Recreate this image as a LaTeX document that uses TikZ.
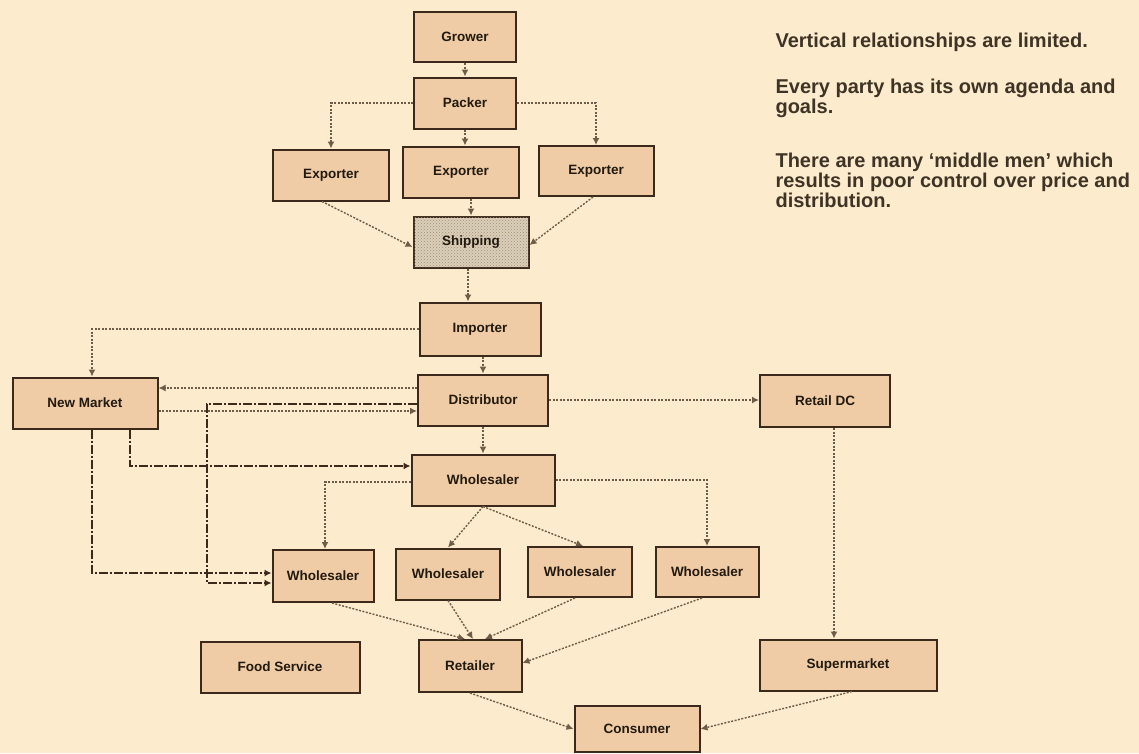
\documentclass[tikz,border=0pt]{standalone}
\usepackage{fontspec}
\setmainfont{Liberation Sans}
\usetikzlibrary{arrows.meta,patterns}

\definecolor{bgcol}{HTML}{FDEBCD}
\definecolor{boxcol}{HTML}{EFCCA6}
\definecolor{edgecol}{HTML}{3B2A1C}
\definecolor{linecol}{HTML}{6E5C48}
\definecolor{txtcol}{HTML}{22190F}
\definecolor{notecol}{HTML}{3E3426}
\definecolor{shipcol}{HTML}{DCCFBA}
\definecolor{shipdot}{HTML}{9E8E76}

\tikzset{
	box/.style={draw=edgecol, line width=2pt, fill=boxcol, inner sep=0pt,
		minimum height=51pt, text=txtcol, font=\fontsize{13.5}{14}\selectfont\bfseries},
	dotline/.style={draw=linecol, line width=1.4pt, dash pattern=on 2pt off 1.5pt,
		-{Latex[length=7pt,width=7pt]}},
	dashdot/.style={draw=edgecol, line width=1.8pt, dash pattern=on 9pt off 2pt on 2pt off 2pt,
		-{Latex[length=7pt,width=7pt]}},
	note/.style={anchor=west, text=notecol, align=left, font=\fontsize{20}{20}\selectfont\bfseries}
}

\begin{document}
\begin{tikzpicture}[x=1pt,y=-1pt]
	\fill[bgcol] (0,0) rectangle (1139,753);
	\useasboundingbox (0,0) rectangle (1139,753);
	% top of the chain
	\node[box, minimum width=102pt, minimum height=50pt] (grow) at (465,37) {Grower};
	\node[box, minimum width=102pt] (pack) at (465,103) {Packer};
	\node[box, minimum width=116pt] (exa) at (331,175) {Exporter};
	\node[box, minimum width=116pt] (exb) at (461,172) {Exporter};
	\node[box, minimum width=115pt, minimum height=50pt] (exc) at (596,171) {Exporter};
	\node[box, minimum width=115pt, fill=shipcol,
		postaction={pattern=crosshatch dots, pattern color=shipdot}] (ship) at (471,242) {Shipping};
	\node[box, minimum width=121pt, minimum height=53pt] (imp) at (480,329) {Importer};
	\node[box, minimum width=130pt] (dist) at (483,400) {Distributor};
	\node[box, minimum width=130pt, minimum height=52pt] (rdc) at (825,401) {Retail DC};
	\node[box, minimum width=145pt] (nm) at (85,403) {New Market};
	% wholesalers
	\node[box, minimum width=143pt] (whm) at (483,480) {Wholesaler};
	\node[box, minimum width=101pt, minimum height=52pt] (wha) at (323,576) {Wholesaler};
	\node[box, minimum width=104pt] (whb) at (448,574) {Wholesaler};
	\node[box, minimum width=104pt, minimum height=50pt] (whc) at (580,572) {Wholesaler};
	\node[box, minimum width=103pt, minimum height=50pt] (whd) at (707,572) {Wholesaler};
	% end of the chain
	\node[box, minimum width=159pt] (food) at (280,667) {Food Service};
	\node[box, minimum width=103pt, minimum height=52pt] (ret) at (470,666) {Retailer};
	\node[box, minimum width=177pt] (sup) at (848,665) {Supermarket};
	\node[box, minimum width=125pt, minimum height=46pt] (cons) at (637,729) {Consumer};
	% notes
	\node[note] (nta) at (772,42) {Vertical relationships are limited.};
	\node[note] (ntb) at (772,98.5) {Every party has its own agenda and\\goals.};
	\node[note] (ntc) at (772,180) {There are many `middle men' which\\results in poor control over price and\\distribution.};

	\draw[dotline] (grow.south) -- (pack.north);
	\draw[dotline] (pack.south) -- (pack.south |- exb.north);
	\draw[dotline] (pack.west) -| (exa.north);
	\draw[dotline] (pack.east) -| (exc.north);
	\draw[dotline] ([xshift=-9pt]exa.south) -- ([yshift=-5pt]ship.west);
	\draw[dotline] (ship.north |- exb.south) -- (ship.north);
	\draw[dotline] ([xshift=-3pt]exc.south) -- ([yshift=-3pt]ship.east);
	\draw[dotline] ([xshift=-3pt]ship.south) -- ([xshift=-3pt]ship.south |- imp.north);
	\draw[dotline] ([xshift=3pt]imp.south) -- (dist.north);
	\draw[dotline] (imp.west) -| ([xshift=7pt]nm.north);
	% new market
	\coordinate (dnm) at ([yshift=12pt]dist.west);
	\coordinate (nmd) at ([yshift=-8pt]nm.east);
	\coordinate (dwa) at ([yshift=-4pt]dist.west);
	\coordinate (bend) at (207,0);
	\draw[dotline] (dnm) -- (dnm -| nm.east);
	\draw[dotline] (nmd) -- (nmd -| dist.west);
	\draw[dashdot] (dwa) -- (dwa -| bend) |- ([yshift=-7pt]wha.west);
	\draw[dashdot] ([xshift=45pt]nm.south) |- ([yshift=14pt]whm.west);
	\draw[dashdot] ([xshift=7pt]nm.south) |- ([yshift=3pt]wha.west);
	% distributor and wholesalers
	\draw[dotline] (dist.south) -- (whm.north);
	\draw[dotline] (dist.east) -- (dist.east -| rdc.west);
	\draw[dotline] ([yshift=-2pt]whm.west) -| ([xshift=2pt]wha.north);
	\draw[dotline] (whm.east) -| (whd.north);
	\draw[dotline] (whm.south) -- (whb.north);
	\draw[dotline] (whm.south) -- ([xshift=3pt]whc.north);
	\draw[dotline] ([xshift=9pt]rdc.south) -- ([xshift=-14pt]sup.north);
	% to the consumer
	\draw[dotline] ([xshift=9pt]wha.south) -- ([xshift=-5pt]ret.north);
	\draw[dotline] (whb.south) -- ([xshift=3pt]ret.north);
	\draw[dotline] ([xshift=-5pt]whc.south) -- ([xshift=15pt]ret.north);
	\draw[dotline] ([xshift=-5pt]whd.south) -- ([yshift=3pt]ret.east);
	\draw[dotline] (ret.south) -- (cons.west);
	\draw[dotline] ([xshift=4pt]sup.south) -- (cons.east);
\end{tikzpicture}
\end{document}
